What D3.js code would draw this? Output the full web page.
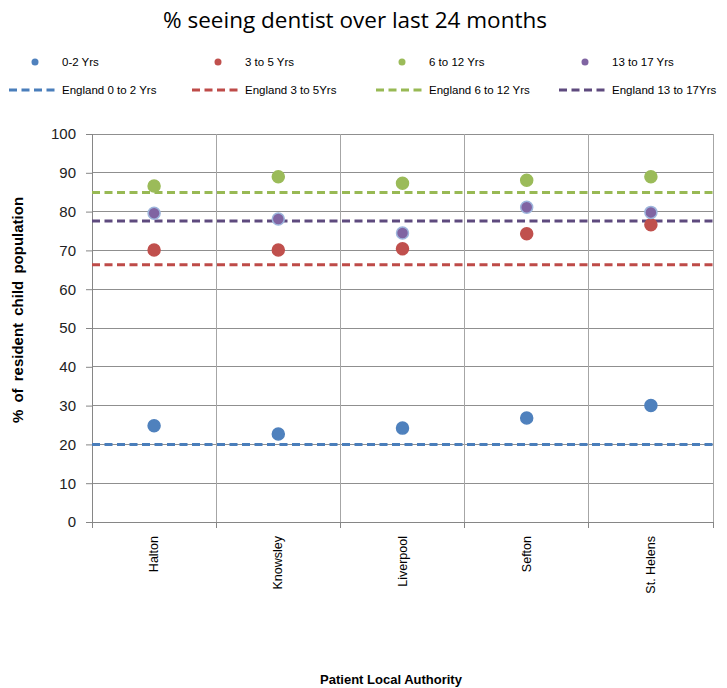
<!DOCTYPE html>
<html><head><meta charset="utf-8">
<script src="https://cdn.jsdelivr.net/npm/d3@7"></script>
<style>body{margin:0;background:#fff}svg{display:block}</style>
</head><body>
<svg id="c" width="727" height="688"></svg>
<script>
const categories = ["Halton","Knowsley","Liverpool","Sefton","St. Helens"];
const seriesNames = ["0-2 Yrs","3 to 5 Yrs","6 to 12 Yrs","13 to 17 Yrs"];
const v0to2   = [24.8, 22.7, 24.2, 26.8, 30.0];
const v3to5   = [70.1, 70.1, 70.4, 74.3, 76.6];
const v6to12  = [86.6, 89.0, 87.3, 88.1, 89.0];
const v13to17 = [79.6, 78.1, 74.5, 81.1, 79.8];
const englandNames = ["England 0 to 2 Yrs","England 3 to 5Yrs","England 6 to 12 Yrs","England 13 to 17Yrs"];
const englandValues = [20.0, 66.3, 84.9, 77.6];
const yTicks = [0,10,20,30,40,50,60,70,80,90,100];
const markerFill = ["#4F81BD","#C0504D","#9BBB59","#8064A2"];
const markerStroke = ["#4F81BD","#C0504D","#9BBB59","#9DB5DC"];
const lineColors = ["#4A7EBB","#BE4B48","#98B954","#5E4A7E"];
const seriesValues = [v0to2, v3to5, v6to12, v13to17];

const svg = d3.select("#c");
const L = 92, R = 713, T = 134, B = 522;
const x = d3.scaleBand().domain(categories).range([L, R]);
const y = d3.scaleLinear().domain([0,100]).range([B, T]);
const font = "'Liberation Sans', Arial, sans-serif";

// title
svg.append("text").attr("x", 355).attr("y", 28).attr("text-anchor","middle")
  .attr("font-family","'Open Sans', sans-serif").attr("font-size", 22.5).attr("fill","#000")
  .text("% seeing dentist over last 24 months");

// grid horizontal
svg.append("g").selectAll("line").data(yTicks).join("line")
  .attr("x1", L).attr("x2", R).attr("y1", d=>y(d)).attr("y2", d=>y(d))
  .attr("stroke", "#8f8f8f").attr("stroke-width", 1).attr("shape-rendering","crispEdges");
// vertical grid (category boundaries)
const bounds = categories.map(c => x(c)).concat([R]);
svg.append("g").selectAll("line").data(bounds).join("line")
  .attr("x1", d=>d).attr("x2", d=>d).attr("y1", T).attr("y2", B)
  .attr("stroke", (d,i)=> i===0 ? "#868686" : "#a6a6a6").attr("stroke-width", 1).attr("shape-rendering","crispEdges");

// y axis
const yAxis = svg.append("g").attr("transform", `translate(${L},0)`)
  .call(d3.axisLeft(y).tickValues(yTicks).tickSize(6).tickPadding(10));
yAxis.select(".domain").attr("stroke","#868686");
yAxis.selectAll(".tick line").attr("stroke","#868686");
yAxis.selectAll("text").attr("font-family", font).attr("font-size", 15).attr("fill","#222");

// x axis
const xAxis = svg.append("g").attr("transform", `translate(0,${B})`)
  .call(d3.axisBottom(x).tickSize(0).tickFormat(""));
xAxis.select(".domain").attr("stroke","#868686");
svg.append("g").selectAll("line").data(bounds).join("line")
  .attr("x1", d=>d).attr("x2", d=>d).attr("y1", B).attr("y2", B+6)
  .attr("stroke","#868686").attr("shape-rendering","crispEdges");
svg.append("g").selectAll("text").data(categories).join("text")
  .attr("transform", d => `translate(${x(d)+x.bandwidth()/2+4},${B+14}) rotate(-90)`)
  .attr("text-anchor","end").attr("font-family", font).attr("font-size", 12.5).attr("fill","#000")
  .text(d=>d);

// axis titles
svg.append("text").attr("transform", `translate(23,310) rotate(-90)`)
  .attr("text-anchor","middle").attr("font-family", font).attr("font-size", 15)
  .attr("font-weight","bold").attr("word-spacing", 3).attr("fill","#000")
  .text("% of resident child population");
svg.append("text").attr("x", 391).attr("y", 684).attr("text-anchor","middle")
  .attr("font-family", font).attr("font-size", 13).attr("font-weight","bold").attr("fill","#000")
  .text("Patient Local Authority");

// England dashed lines
svg.append("g").selectAll("line").data(englandValues).join("line")
  .attr("x1", L).attr("x2", R).attr("y1", d=>y(d)).attr("y2", d=>y(d))
  .attr("stroke", (d,i)=>lineColors[i]).attr("stroke-width", 3).attr("stroke-dasharray","8,4.5");

// markers
seriesValues.forEach((vals, si) => {
  svg.append("g").selectAll("circle").data(vals).join("circle")
    .attr("cx", (d,i)=> x(categories[i]) + x.bandwidth()/2)
    .attr("cy", d=>y(d)).attr("r", 6)
    .attr("fill", markerFill[si]).attr("stroke", markerStroke[si]).attr("stroke-width", 1.5);
});

// legend
const legX = [35, 218, 402, 585];
const lg = svg.append("g");
seriesNames.forEach((n, i) => {
  lg.append("circle").attr("cx", legX[i]).attr("cy", 62).attr("r", 3.5).attr("fill", markerFill[i]);
  lg.append("text").attr("x", legX[i]+27).attr("y", 66).attr("font-family", font).attr("font-size", 11.5).attr("fill","#000").text(n);
});
englandNames.forEach((n, i) => {
  lg.append("line").attr("x1", legX[i]-26).attr("x2", legX[i]+24).attr("y1", 90).attr("y2", 90)
    .attr("stroke", lineColors[i]).attr("stroke-width", 3).attr("stroke-dasharray","8,4.5");
  lg.append("text").attr("x", legX[i]+27).attr("y", 94).attr("font-family", font).attr("font-size", 11.5).attr("fill","#000").text(n);
});
</script>
</body></html>
